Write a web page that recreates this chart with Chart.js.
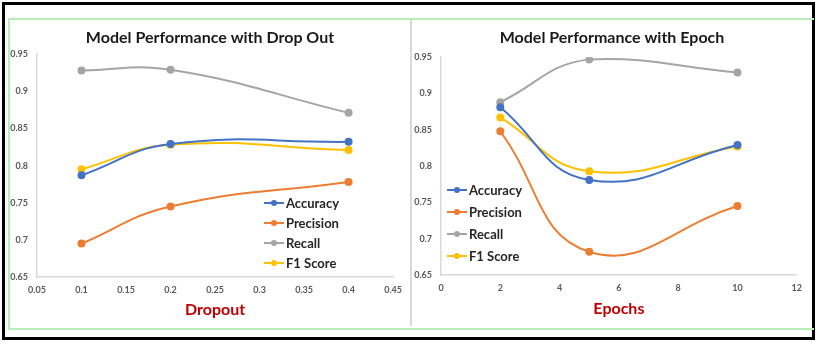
<!DOCTYPE html>
<html><head><meta charset="utf-8">
<script src="https://cdn.jsdelivr.net/npm/chart.js@4.4.1/dist/chart.umd.min.js"></script>
<style>
html,body{margin:0;padding:0;background:#fff;width:821px;height:345px;overflow:hidden;}
#outer{position:absolute;left:2px;top:2px;width:807px;height:332px;border:3px solid #000;}
#green{position:absolute;left:8px;top:18px;width:804px;height:308px;border-top:2px solid #b8ecb8;border-left:2px solid #b8ecb8;border-bottom:2px solid #b8ecb8;}
#divider{position:absolute;left:410px;top:20px;width:2px;height:306px;background:#d9d9d9;}
.wrap{position:absolute;}
#w1{left:4px;top:20px;width:406px;height:306px;}
#w2{left:408px;top:20px;width:402px;height:306px;}
.legend{position:absolute;font-family:Lato,sans-serif;font-weight:bold;font-size:13px;color:#262626;}
.legend .row{position:relative;height:20px;line-height:20px;padding-left:22px;white-space:nowrap;}
#lg2 .row{height:22px;line-height:22px;}
#lg2 .row .ln{top:10px;}
#lg2 .row .dt{top:8px;}
.legend .ln{position:absolute;left:0;top:9px;width:20px;height:2px;}
.legend .dt{position:absolute;left:7px;top:7px;width:6px;height:6px;border-radius:50%;}
</style></head>
<body>
<div id="outer"></div>
<div id="green"></div>
<div id="divider"></div>
<div class="wrap" id="w1"><canvas id="c1"></canvas></div>
<div class="wrap" id="w2"><canvas id="c2"></canvas></div>
<div class="legend" id="lg1" style="left:264px;top:193px;"></div>
<div class="legend" id="lg2" style="left:447px;top:179px;"></div>
<script>
// ---- data ----
const seriesNames = ['Accuracy', 'Precision', 'Recall', 'F1 Score'];
const seriesColors = ['#4472C4', '#ED7D31', '#A5A5A5', '#FFC000'];

const dropoutX = [0.1, 0.2, 0.4];
const dropoutAccuracy  = [0.787, 0.829, 0.832];
const dropoutPrecision = [0.695, 0.745, 0.778];
const dropoutRecall    = [0.928, 0.929, 0.871];
const dropoutF1        = [0.795, 0.828, 0.821];

const epochX = [2, 5, 10];
const epochAccuracy  = [0.881, 0.781, 0.829];
const epochPrecision = [0.848, 0.682, 0.745];
const epochRecall    = [0.888, 0.947, 0.929];
const epochF1        = [0.867, 0.793, 0.827];

const yTickLabels = ['0.65', '0.7', '0.75', '0.8', '0.85', '0.9', '0.95'];
const dropoutTickLabels = ['0.05', '0.1', '0.15', '0.2', '0.25', '0.3', '0.35', '0.4', '0.45'];
const epochTickLabels = ['0', '2', '4', '6', '8', '10', '12'];

// ---- helpers ----
function mkDatasets(xs, arrs) {
  return arrs.map((a, i) => ({
    label: seriesNames[i],
    data: xs.map((x, j) => ({x: x, y: a[j]})),
    borderColor: seriesColors[i],
    backgroundColor: seriesColors[i],
    borderWidth: 2,
    pointRadius: 3,
    pointHoverRadius: 3,
    tension: 0.45,
    fill: false
  }));
}
const tickFont = {family: 'Lato, sans-serif', size: 9, weight: 'bold'};
const mctx = document.createElement('canvas').getContext('2d');
mctx.font = 'normal bold 9px Lato, sans-serif';
const yWidest = Math.max.apply(null, yTickLabels.map(t => mctx.measureText(t).width));
const yGap = 9; // gap between label end and axis line

function mkOptions(title, xTitle, xMin, xMax, xStep, xLabels, cfg) {
  return {
    responsive: true,
    maintainAspectRatio: false,
    animation: false,
    layout: {padding: {left: cfg.left, right: cfg.right, top: 0, bottom: cfg.bot}},
    plugins: {
      legend: {display: false},
      tooltip: {enabled: false},
      title: {display: true, text: title, color: '#1a1a1a',
        font: {family: 'Lato, sans-serif', size: 16, weight: 'bold'},
        padding: {top: cfg.tTop, bottom: cfg.tBot}}
    },
    scales: {
      x: {
        type: 'linear', min: xMin, max: xMax,
        grid: {display: false, drawTicks: false},
        border: {display: true, color: '#d9d9d9', width: 1.5},
        ticks: {stepSize: xStep, color: '#595959', font: tickFont, padding: 8, maxRotation: 0, autoSkip: false,
          callback: (v, i) => xLabels[i]},
        title: {display: true, text: xTitle, color: '#C00000',
          font: {family: 'Lato, sans-serif', size: 16, weight: 'bold'}, padding: {top: 4, bottom: 0}},
        afterFit: s => { s.height = cfg.xH; }
      },
      y: {
        min: 0.65, max: 0.95,
        grid: {display: false, drawTicks: false},
        border: {display: true, color: '#d9d9d9', width: 1.5},
        ticks: {stepSize: 0.05, color: '#595959', font: tickFont,
          mirror: true, crossAlign: 'far', padding: -(yWidest + yGap),
          callback: (v, i) => yTickLabels[i]},
        afterFit: s => { s.width = cfg.yW; }
      }
    }
  };
}
function mkLegend(id) {
  const el = document.getElementById(id);
  seriesNames.forEach((n, i) => {
    const r = document.createElement('div');
    r.className = 'row';
    r.innerHTML = '<span class="ln" style="background:' + seriesColors[i] + '"></span><span class="dt" style="background:' + seriesColors[i] + '"></span>' + n;
    el.appendChild(r);
  });
}

new Chart(document.getElementById('c1'), {
  type: 'line',
  data: {datasets: mkDatasets(dropoutX, [dropoutAccuracy, dropoutPrecision, dropoutRecall, dropoutF1])},
  options: mkOptions('Model Performance with Drop Out', 'Dropout', 0.05, 0.45, 0.05, dropoutTickLabels,
    {left: 20, right: 14, bot: 7, tTop: 8, tBot: 7, xH: 42, yW: 13})
});
new Chart(document.getElementById('c2'), {
  type: 'line',
  data: {datasets: mkDatasets(epochX, [epochAccuracy, epochPrecision, epochRecall, epochF1])},
  options: mkOptions('Model Performance with Epoch', 'Epochs', 0, 12, 2, epochTickLabels,
    {left: 19, right: 13, bot: 8, tTop: 8, tBot: 10, xH: 43, yW: 14})
});
mkLegend('lg1');
mkLegend('lg2');
</script>
</body></html>
